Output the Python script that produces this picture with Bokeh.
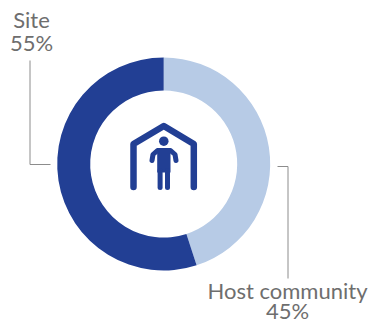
from math import pi

from bokeh.core.properties import value
from bokeh.embed import file_html
from bokeh.models import ColumnDataSource
from bokeh.plotting import figure
from bokeh.resources import INLINE

categories = ["Host community", "Site"]
shares = [45, 55]
colors = ["#B7CBE6", "#223F94"]
labels = [["Host community", "45%"], ["Site", "55%"]]

W, H = 369, 324
CX, CY = 163.2, H - 163.5
BLUE = "#223F94"
GREY = "#8C8C8C"
TEXT = "#6E6E6E"


def yy(top):
    """Convert a distance from the top edge into a y coordinate."""
    return H - top


p = figure(width=W, height=H, x_range=(0, W), y_range=(0, H),
           output_backend="svg", toolbar_location=None,
           min_border=0, outline_line_color=None,
           background_fill_color="white", border_fill_color="white")
p.axis.visible = False
p.grid.visible = False

# Ring, running clockwise from twelve o'clock
starts, ends = [], []
angle = pi / 2
for s in shares:
    starts.append(angle)
    angle -= s / sum(shares) * 2 * pi
    ends.append(angle)
src = ColumnDataSource(dict(cat=categories, start=starts, end=ends, color=colors))
p.annular_wedge(x=CX, y=CY, inner_radius=73.5, outer_radius=106.5,
                start_angle="start", end_angle="end", direction="clock",
                fill_color="color", line_color=None, source=src)

# Leader lines
p.line([29.5, 29.5, 50], [yy(60), yy(164), yy(164)], line_color=GREY, line_width=1)
p.line([277, 287.5, 287.5], [yy(166), yy(166), yy(278)], line_color=GREY, line_width=1)

# Labels
label_font = value("Lato")
p.text(x=[31, 31], y=[yy(19), yy(42)], text=labels[1],
       text_font=label_font, text_font_size="22px", text_color=TEXT,
       text_align="center", text_baseline="middle")
p.text(x=[287, 287], y=[yy(290), yy(310)], text=labels[0],
       text_font=label_font, text_font_size="22px", text_color=TEXT,
       text_align="center", text_baseline="middle")

# House outline with a standing figure inside
p.line([133, 133, 163.3, 193.3, 193.3],
       [yy(186.5), yy(143.5), yy(125.5), yy(143.5), yy(186.5)],
       line_color=BLUE, line_width=6.5, line_cap="round", line_join="round")
p.scatter([163.3], [yy(140.7)], size=9.5, fill_color=BLUE, line_color=None)
p.patch([156.7, 170, 170, 156.7], [yy(148), yy(148), yy(172), yy(172)],
        fill_color=BLUE, line_color=None)
p.multi_line([[151.5, 152.5, 157, 170, 174.5, 175.5]],
             [[yy(160), yy(154), yy(150), yy(150), yy(154), yy(160)]],
             line_color=BLUE, line_width=5, line_cap="round", line_join="round")
p.multi_line([[159.6, 159.6], [167.0, 167.0]],
             [[yy(170), yy(187)], [yy(170), yy(187)]],
             line_color=BLUE, line_width=5, line_cap="round")

open("out.html", "w").write(file_html(p, INLINE))
